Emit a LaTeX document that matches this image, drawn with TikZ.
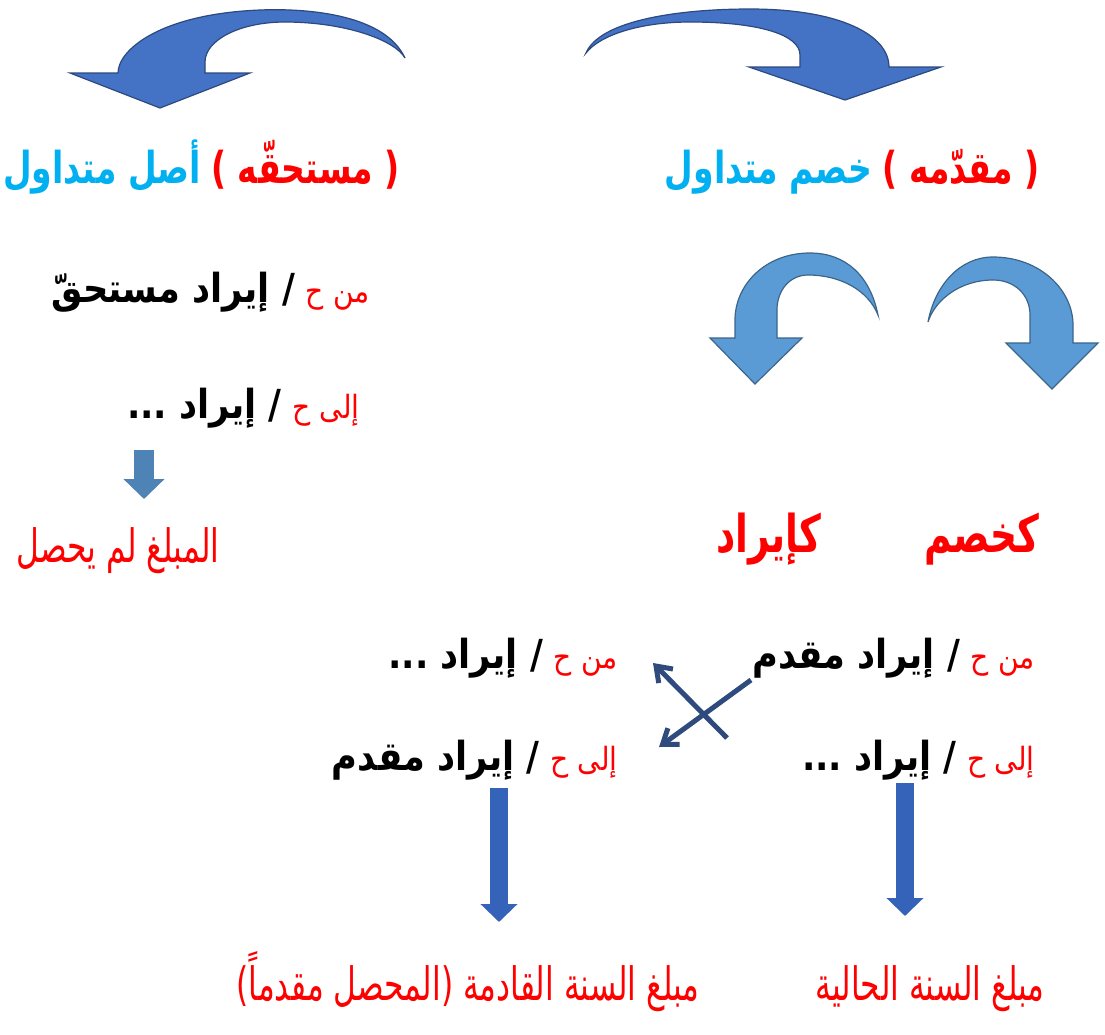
\documentclass[tikz,border=0pt]{standalone}
\usepackage{fontspec}
\usetikzlibrary{arrows.meta}
\newfontfamily\headfont[Script=Arabic, FakeStretch=0.75]{DejaVu Sans}
\newfontfamily\entryfont[Script=Arabic, FakeStretch=0.88]{DejaVu Sans}
\newfontfamily\kindfont[Script=Arabic, FakeStretch=0.72]{DejaVu Sans}
\newfontfamily\notefont[Script=Arabic, FakeStretch=0.68]{DejaVu Sans}
\TeXXeTstate=1

\definecolor{arrowblue}{HTML}{4472C4}
\definecolor{lightarrow}{HTML}{5B9BD5}
\definecolor{titleblue}{HTML}{00B0F0}
\definecolor{crossblue}{HTML}{2F4A7C}
\definecolor{downblue}{HTML}{3563BA}

\tikzset{
  headtext/.style={font=\headfont\bfseries\fontsize{22}{26}\selectfont, inner sep=0pt},
  entrytext/.style={font=\entryfont\bfseries\fontsize{20}{24}\selectfont, inner sep=0pt},
  acctext/.style={font=\entryfont\fontsize{16}{20}\selectfont, text=red, inner sep=0pt},
  kindtext/.style={font=\kindfont\bfseries\fontsize{26}{30}\selectfont, text=red, inner sep=0pt},
  notetext/.style={font=\notefont\fontsize{23}{28}\selectfont, text=red, inner sep=0pt},
  curvearrow/.style={fill=#1, draw=#1!65!black, line width=0.6pt},
  blockdown/.style={line width=9pt, downblue, -{Triangle[width=18pt,length=9pt]}},
  crossarrow/.style={line width=2.5pt, crossblue, -{Straight Barb[length=7pt,width=10pt]}}
}

\begin{document}
\begin{tikzpicture}[x=0.5pt, y=-0.5pt]
\useasboundingbox (0,0) rectangle (1105,1035);

% curved arrows on top
\draw[curvearrow=arrowblue] (405,58) .. controls (385,15) and (310,8) .. (260,10)
  .. controls (160,14) and (118,50) .. (118,73) -- (70,73) -- (160,108) -- (250,73) -- (205,73)
  -- (205,62) .. controls (205,40) and (240,22) .. (285,22) .. controls (345,22) and (395,40) .. (405,58) -- cycle;
\draw[curvearrow=arrowblue] (586,53) .. controls (600,20) and (680,9) .. (750,9)
  .. controls (840,9) and (889,35) .. (889,67) -- (941,67) -- (845,100) -- (749,67) -- (800,67)
  -- (800,55) .. controls (800,35) and (760,22) .. (690,22) .. controls (640,22) and (600,35) .. (586,53) -- cycle;

% titles
\node[headtext, text=red, anchor=base east] (curkind) at (1040,183) {\beginR( مقدّمه )\endR};
\node[headtext, text=titleblue, anchor=base east] (curname) at ([xshift=-5pt]curkind.base west) {\beginR خصم متداول\endR};
\node[headtext, text=red, anchor=base east] (duekind) at (400,183) {\beginR( مستحقّه )\endR};
\node[headtext, text=titleblue, anchor=base east] (duename) at ([xshift=-5pt]duekind.base west) {\beginR أصل متداول\endR};

% accrued entry
\node[acctext, anchor=base east] (duefromacc) at (370,302) {\beginR من ح\endR};
\node[entrytext, anchor=base east] (duefrom) at ([xshift=-5pt]duefromacc.base west) {\beginR/ إيراد مستحقّ\endR};
\node[acctext, anchor=base east] (duetoacc) at (360,418) {\beginR إلى ح\endR};
\node[entrytext, anchor=base east] (dueto) at ([xshift=-5pt]duetoacc.base west) {\beginR/ إيراد ...\endR};

\coordinate (duetop) at (144,450);
\coordinate (duetip) at (144,499);
\draw[line width=10pt, lightarrow!85!black, -{Triangle[width=20pt,length=10pt]}] (duetop) -- (duetip);

\node[notetext, anchor=base east] (duenote) at (220,562) {\beginR المبلغ لم يحصل\endR};

% curved arrows in the middle
\draw[curvearrow=lightarrow] (878,315) .. controls (870,275) and (845,253) .. (810,253)
  .. controls (765,253) and (735,285) .. (735,320) -- (735,338) -- (710,338) -- (755,384) -- (802,338) -- (777,338)
  -- (777,310) .. controls (777,290) and (790,275) .. (808,275) .. controls (840,275) and (868,290) .. (878,315) -- cycle;
\draw[curvearrow=lightarrow] (928,322) .. controls (935,285) and (960,257) .. (993,257)
  .. controls (1040,257) and (1073,290) .. (1073,325) -- (1073,343) -- (1098,343) -- (1052,389) -- (1006,343) -- (1030,343)
  -- (1030,315) .. controls (1030,295) and (1015,280) .. (993,280) .. controls (960,280) and (935,300) .. (928,322) -- cycle;

\node[kindtext, anchor=base east] (asdisc) at (1040,552) {\beginR كخصم\endR};
\node[kindtext, anchor=base east] (asrev) at (822,552) {\beginR كإيراد\endR};

% entries
\node[acctext, anchor=base east] (curfromacc) at (1035,668) {\beginR من ح\endR};
\node[entrytext, anchor=base east] (curfrom) at ([xshift=-5pt]curfromacc.base west) {\beginR/ إيراد مقدم\endR};
\node[acctext, anchor=base east] (curtoacc) at (1035,770) {\beginR إلى ح\endR};
\node[entrytext, anchor=base east] (curto) at ([xshift=-5pt]curtoacc.base west) {\beginR/ إيراد ...\endR};
\node[acctext, anchor=base east] (nextfromacc) at (618,668) {\beginR من ح\endR};
\node[entrytext, anchor=base east] (nextfrom) at ([xshift=-5pt]nextfromacc.base west) {\beginR/ إيراد ...\endR};
\node[acctext, anchor=base east] (nexttoacc) at (618,770) {\beginR إلى ح\endR};
\node[entrytext, anchor=base east] (nextto) at ([xshift=-5pt]nexttoacc.base west) {\beginR/ إيراد مقدم\endR};

\coordinate (crossAfrom) at (727,738);
\coordinate (crossAto) at (653,663);
\coordinate (crossBfrom) at (751,680);
\coordinate (crossBto) at (659,747);
\foreach \from/\to in {crossAfrom/crossAto, crossBfrom/crossBto}
  \draw[crossarrow] (\from) -- (\to);

\coordinate (curtop) at (905,783);
\coordinate (curtip) at (905,916);
\coordinate (nexttop) at (499,788);
\coordinate (nexttip) at (499,922);
\foreach \from/\to in {curtop/curtip, nexttop/nexttip}
  \draw[blockdown] (\from) -- (\to);

\node[notetext, anchor=base east] (curnote) at (1045,1000) {\beginR مبلغ السنة الحالية\endR};
\node[notetext, anchor=base east] (nextnote) at (700,1000) {\beginR مبلغ السنة القادمة (المحصل مقدماً)\endR};

\end{tikzpicture}
\end{document}
